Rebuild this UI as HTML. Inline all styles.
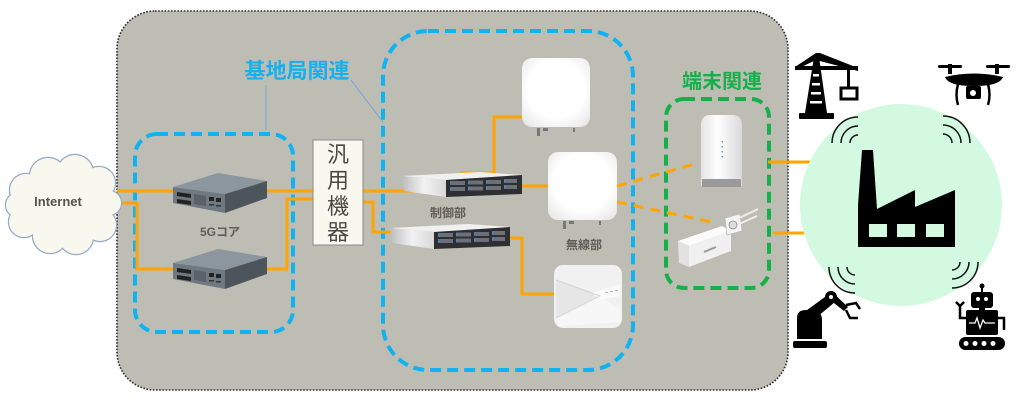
<!DOCTYPE html>
<html><head><meta charset="utf-8">
<style>
html,body{margin:0;padding:0;background:#fff;}
svg{display:block;}
text{font-family:"Liberation Sans","Noto Sans CJK JP",sans-serif;}
</style></head>
<body>
<svg width="1024" height="401" viewBox="0 0 1024 401" xmlns="http://www.w3.org/2000/svg">
<defs>
<linearGradient id="rtop" x1="0" y1="0" x2="1" y2="0">
<stop offset="0" stop-color="#bdbdbd"/><stop offset="0.5" stop-color="#f2f2f2"/><stop offset="1" stop-color="#d8d8d8"/>
</linearGradient>
<radialGradient id="wht" cx="0.5" cy="0.45" r="0.7">
<stop offset="0.6" stop-color="#ffffff"/><stop offset="1" stop-color="#e6e6e6"/>
</radialGradient>
<linearGradient id="cyl" x1="0" y1="0" x2="1" y2="0">
<stop offset="0" stop-color="#e4e4e4"/><stop offset="0.4" stop-color="#ffffff"/><stop offset="1" stop-color="#d9d9d9"/>
</linearGradient>
</defs>

<!-- gray area -->
<rect x="117" y="11" width="671" height="379" rx="38" fill="#bebdb4" stroke="#2a2a2a" stroke-width="1.6" stroke-dasharray="1.6 1.6"/>

<!-- blue dashed boxes -->
<rect x="135" y="134" width="158" height="198" rx="22" fill="none" stroke="#10b2f0" stroke-width="4" stroke-dasharray="11 6"/>
<rect x="383" y="31" width="250" height="339" rx="45" fill="none" stroke="#10b2f0" stroke-width="4" stroke-dasharray="11 6"/>
<!-- green dashed box -->
<rect x="666" y="99" width="103" height="189" rx="18" fill="none" stroke="#16b04a" stroke-width="4" stroke-dasharray="11 6"/>

<!-- labels -->
<text x="297" y="78" font-size="21" font-weight="bold" fill="#16b0ee" text-anchor="middle">基地局関連</text>
<line x1="266" y1="85" x2="266" y2="130" stroke="#6fa6d8" stroke-width="1"/>
<line x1="351" y1="80" x2="383" y2="122" stroke="#6fa6d8" stroke-width="1"/>
<text x="722" y="88" font-size="20" font-weight="bold" fill="#16b04a" text-anchor="middle">端末関連</text>

<!-- orange connections -->
<g fill="none" stroke="#ffa400" stroke-width="3">
<polyline points="117,191 175,191"/>
<polyline points="265,191 313,191"/>
<polyline points="363,191 420,191"/>
<polyline points="118,203 137,203 137,269 176,269"/>
<polyline points="265,269 287,269 287,199 313,199"/>
<polyline points="363,202 373,202 373,232 395,232"/>
<polyline points="460,173 494,173 494,117 523,117"/>
<polyline points="520,186 549,186"/>
<polyline points="510,238 522,238 522,294 555,294"/>
<polyline points="768,162 810,162"/>
<polyline points="773,233 805,233"/>
</g>
<g fill="none" stroke="#ffa400" stroke-width="3" stroke-dasharray="10 7">
<line x1="617" y1="186" x2="698" y2="163"/>
<line x1="617" y1="202" x2="712" y2="222"/>
</g>

<!-- Internet cloud -->
<g stroke="#94a9c9" stroke-width="2.4">
<circle cx="26" cy="190" r="16"/><circle cx="48" cy="176" r="18"/><circle cx="75" cy="173" r="18"/>
<circle cx="99" cy="183" r="16"/><circle cx="109" cy="203" r="12"/><circle cx="100" cy="225" r="16"/>
<circle cx="76" cy="237" r="17"/><circle cx="50" cy="236" r="17"/><circle cx="24" cy="222" r="15"/><circle cx="18" cy="205" r="12"/>
</g>
<g fill="#f8f8ee">
<circle cx="26" cy="190" r="16"/><circle cx="48" cy="176" r="18"/><circle cx="75" cy="173" r="18"/>
<circle cx="99" cy="183" r="16"/><circle cx="109" cy="203" r="12"/><circle cx="100" cy="225" r="16"/>
<circle cx="76" cy="237" r="17"/><circle cx="50" cy="236" r="17"/><circle cx="24" cy="222" r="15"/><circle cx="18" cy="205" r="12"/>
<ellipse cx="62" cy="205" rx="46" ry="34"/>
</g>
<text x="58" y="206" font-size="13" font-weight="bold" fill="#555550" text-anchor="middle">Internet</text>

<!-- 5G core servers -->
<g id="srv">
<polygon points="173,187 218,173 267,181 225,194" fill="#8c969e"/>
<polygon points="173,187 225,194 225,213 173,203" fill="#6f7981"/>
<polygon points="225,194 267,181 267,198 225,213" fill="#4d555c"/>
<polygon points="177,192 191,194 191,198 177,196" fill="#222"/>
<polygon points="177,199 191,201 191,205 177,203" fill="#222"/>
<polygon points="194,194 206,196 206,206 194,204" fill="#5a6168"/>
<rect x="209" y="197" width="5" height="4" fill="#222"/><rect x="216" y="198" width="5" height="4" fill="#222"/>
<rect x="209" y="204" width="5" height="1.5" fill="#333"/><rect x="216" y="205" width="5" height="1.5" fill="#333"/>
</g>
<use href="#srv" transform="translate(0,76)"/>
<text x="220" y="236" font-size="12" font-weight="bold" fill="#5e5e56" text-anchor="middle">5Gコア</text>

<!-- 汎用機器 -->
<rect x="313" y="140" width="50" height="105" fill="#f9f8ef" stroke="#8a8a84" stroke-width="1"/>
<g font-size="22" fill="#4a4a44" text-anchor="middle">
<text x="338" y="162">汎</text>
<text x="338" y="188">用</text>
<text x="338" y="214">機</text>
<text x="338" y="240">器</text>
</g>

<!-- control servers -->
<g id="rack">
<polygon points="402,176 480,172 522,175 446,180" fill="#f0f0f0"/>
<polygon points="402,176 446,180 446,197 404,191" fill="url(#rtop)"/>
<polygon points="446,180 522,175 522,194 446,197" fill="#2d2f33"/>
<g fill="#6b7079">
<rect x="450" y="181" width="15" height="4"/><rect x="468" y="180.5" width="15" height="4"/><rect x="486" y="180" width="15" height="4"/><rect x="504" y="179" width="13" height="4"/>
<rect x="450" y="187" width="15" height="4"/><rect x="468" y="186.5" width="15" height="4"/><rect x="486" y="186" width="15" height="4"/><rect x="504" y="185" width="13" height="4"/>
</g>
<g fill="#3a8de0">
<rect x="450" y="182" width="1.5" height="2"/><rect x="468" y="181.5" width="1.5" height="2"/><rect x="486" y="181" width="1.5" height="2"/><rect x="504" y="180" width="1.5" height="2"/>
<rect x="450" y="188" width="1.5" height="2"/><rect x="468" y="187.5" width="1.5" height="2"/><rect x="486" y="187" width="1.5" height="2"/><rect x="504" y="186" width="1.5" height="2"/>
</g>
</g>
<use href="#rack" transform="translate(-12,52)"/>
<text x="448" y="217" font-size="12" font-weight="bold" fill="#5e5e56" text-anchor="middle">制御部</text>

<!-- radio units -->
<rect x="522" y="58" width="68" height="69" rx="10" fill="url(#wht)"/>
<g fill="#777"><rect x="537" y="128" width="3" height="8"/><rect x="543" y="128" width="5" height="3"/><rect x="573" y="128" width="2" height="4"/></g>
<rect x="548" y="152" width="69" height="68" rx="10" fill="url(#wht)"/>
<g fill="#777"><rect x="563" y="221" width="3" height="8"/><rect x="569" y="221" width="5" height="3"/><rect x="599" y="221" width="2" height="4"/></g>
<text x="584" y="249" font-size="12" font-weight="bold" fill="#5e5e56" text-anchor="middle">無線部</text>
<rect x="554" y="265" width="68" height="63" rx="9" fill="#f1f1f1"/>
<polygon points="556,280 600,296 556,318" fill="#e6e6e6"/>
<polygon points="556,318 600,296 620,310 620,322 558,326" fill="#f7f7f7"/>
<polygon points="592,293 620,284 620,296 600,300" fill="#fafafa"/>
<line x1="556" y1="280" x2="600" y2="296" stroke="#d2d2d2" stroke-width="1"/>
<line x1="600" y1="296" x2="556" y2="318" stroke="#d8d8d8" stroke-width="1"/>
<g fill="#bbb"><rect x="605" y="292" width="3" height="1"/><rect x="610" y="291" width="3" height="1"/><rect x="615" y="290" width="3" height="1"/></g>

<!-- terminal 1 : router -->
<path d="M701,125 Q701,115 711,115 L732,115 Q742,115 742,125 L742,186 L701,186 Z" fill="url(#cyl)"/>
<rect x="702" y="179" width="39" height="8" fill="#9a9a9a"/>
<g fill="#5aa0e0"><rect x="721.5" y="141" width="1.5" height="1.5"/><rect x="721.5" y="146" width="1.5" height="1.5"/><rect x="721.5" y="151" width="1.5" height="1.5"/><rect x="721.5" y="156" width="1.5" height="1.5"/></g>

<!-- terminal 2 : outdoor box -->
<polygon points="678,241 722,226 731,231 689,246" fill="#fbfbfb"/>
<polygon points="678,241 689,246 689,267 679,263" fill="#e2e2e2"/>
<polygon points="689,246 731,231 731,251 689,267" fill="#f0f0f0"/>
<line x1="704" y1="252" x2="716" y2="247" stroke="#999" stroke-width="2"/>
<polygon points="725,218 740,214 742,231 727,235" fill="#f4f4f4" stroke="#bbb" stroke-width="0.8"/>
<circle cx="733" cy="225" r="4" fill="#ddd" stroke="#888" stroke-width="0.8"/>
<line x1="737" y1="219" x2="758" y2="209" stroke="#eee" stroke-width="2"/>
<line x1="739" y1="224" x2="757" y2="216" stroke="#eee" stroke-width="2"/>

<!-- factory circle -->
<circle cx="901" cy="205" r="101" fill="#d4f9e1"/>
<g fill="none" stroke="#111" stroke-width="1.5">
<path d="M832,143 A26,26 0 0 1 858,117"/><path d="M841,143 A17,17 0 0 1 858,126"/><path d="M850,143 A8,8 0 0 1 858,135"/>
<path d="M943,116 A27,27 0 0 1 970,143"/><path d="M943,125 A18,18 0 0 1 961,143"/><path d="M943,134 A9,9 0 0 1 952,143"/>
<path d="M829,267 A26,26 0 0 0 855,293"/><path d="M838,267 A17,17 0 0 0 855,284"/><path d="M847,267 A8,8 0 0 0 855,275"/>
<path d="M978,262 A26,26 0 0 1 952,288"/><path d="M969,262 A17,17 0 0 1 952,279"/><path d="M960,262 A8,8 0 0 1 952,270"/>
</g>
<polygon points="862,150 873,150 877,209 915,190 915,207 955,190 955,247 858,247 858,205" fill="#000"/>
<g fill="#d4f9e1"><rect x="869" y="224" width="18" height="13"/><rect x="897" y="224" width="18" height="13"/><rect x="926" y="224" width="18" height="13"/></g>

<!-- crane -->
<g fill="#000">
<polygon points="814,57 819,57 827,113 805,113"/>
<rect x="799" y="113" width="35" height="6" rx="1"/>
<rect x="795" y="66" width="63" height="4"/>
<polygon points="816,53 820,53 858,68 858,71 816,60 795,70 795,67"/>
<rect x="847" y="70" width="3" height="18"/>
</g>
<rect x="841" y="88" width="16" height="11" fill="none" stroke="#000" stroke-width="3"/>
<g fill="#fff"><rect x="813" y="74" width="6" height="2.5"/><rect x="812" y="83" width="8" height="2.5"/><rect x="811" y="92" width="10" height="2.5"/><rect x="810" y="101" width="12" height="2.5"/></g>

<!-- drone -->
<g fill="#000">
<rect x="938" y="65" width="24" height="3" rx="1.5"/><rect x="986" y="65" width="24" height="3" rx="1.5"/>
<rect x="948" y="64" width="4" height="10"/><rect x="995" y="64" width="4" height="10"/>
<path d="M945,77 Q974,70 1003,77 Q1000,86 974,86 Q948,86 945,77 Z"/>
<rect x="966" y="86" width="15" height="13" rx="2"/>
</g>
<circle cx="973" cy="93" r="3" fill="#fff"/>
<g fill="none" stroke="#000" stroke-width="2.5"><path d="M958,84 Q955,95 958,105"/><path d="M988,84 Q991,95 988,105"/></g>

<!-- robot arm -->
<g fill="#000">
<rect x="793" y="341" width="34" height="7" rx="2"/>
<path d="M797,339 L797,318 Q797,310 806,310 L814,310 Q822,312 822,320 L822,339 Z"/>
<path d="M803,313 L829,294 L835,302 L811,322 Z"/>
<circle cx="831" cy="297" r="6"/>
<path d="M833,293 L848,307 L844,311 L829,299 Z"/>
</g>
<circle cx="831" cy="297" r="2" fill="#fff"/>
<g fill="none" stroke="#000" stroke-width="2.5"><path d="M846,305 L856,303 L860,309"/><path d="M846,310 L850,318 L858,318"/></g>

<!-- robot -->
<g fill="#000">
<circle cx="982" cy="286" r="2.5"/><rect x="981" y="287" width="2" height="5"/>
<rect x="971" y="292" width="22" height="16" rx="3"/>
<rect x="979" y="308" width="6" height="3"/>
<rect x="966" y="310" width="32" height="25" rx="2"/>
<rect x="959" y="337" width="46" height="13" rx="6.5"/>
</g>
<g fill="none" stroke="#000" stroke-width="2.5">
<path d="M966,318 L960,318 L960,305"/><path d="M956,302 L960,306 L964,302"/>
<path d="M998,318 L1004,318 L1004,330"/>
</g>
<g fill="#fff">
<circle cx="978" cy="299" r="2"/><circle cx="986" cy="299" r="2"/>
<circle cx="966" cy="343.5" r="2.5"/><circle cx="975" cy="343.5" r="2.5"/><circle cx="984" cy="343.5" r="2.5"/><circle cx="993" cy="343.5" r="2.5"/>
</g>
<polyline points="969,323 975,323 977,318 980,328 983,320 985,323 995,323" fill="none" stroke="#fff" stroke-width="1.3"/>
</svg>
</body></html>
